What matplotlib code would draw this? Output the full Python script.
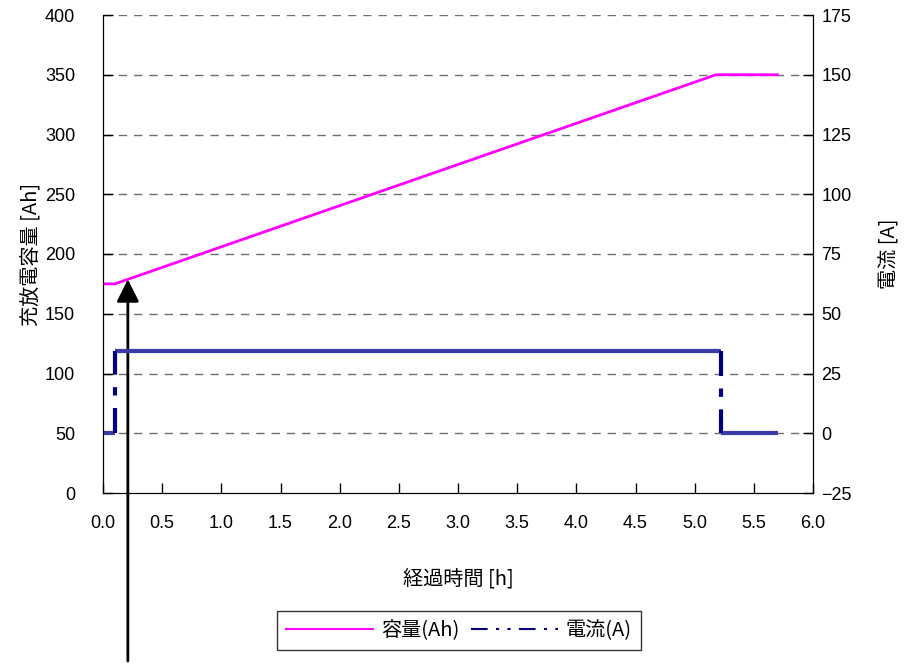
import matplotlib
matplotlib.use('agg')
import matplotlib.pyplot as plt
from matplotlib.lines import Line2D

plt.rcParams['font.family'] = ['Liberation Sans', 'Noto Sans CJK JP']
plt.rcParams['font.size'] = 13
plt.rcParams['axes.unicode_minus'] = True

# data
time_cap = [0.0, 0.1, 5.18, 5.7]
capacity = [175, 175, 350, 350]
time_cur = [0.0, 0.1, 0.1, 5.22, 5.22, 5.7]
current = [0, 0, 34.5, 34.5, 0, 0]
arrow_time = 0.21

xticks = [0.0, 0.5, 1.0, 1.5, 2.0, 2.5, 3.0, 3.5, 4.0, 4.5, 5.0, 5.5, 6.0]
yticks_left = [0, 50, 100, 150, 200, 250, 300, 350, 400]
yticks_right = [-25, 0, 25, 50, 75, 100, 125, 150, 175]

jp = ['Noto Sans CJK JP', 'Liberation Sans']

fig = plt.figure(figsize=(9.06, 6.63), dpi=100)
ax = fig.add_axes([103/906, 1-493/663, 710/906, 478/663])
ax2 = ax.twinx()

ax.set_xlim(0, 6)
ax.set_ylim(0, 400)
ax2.set_ylim(-25, 175)
ax.set_xticks(xticks)
ax.set_xticklabels(['%.1f' % t for t in xticks])
ax.set_yticks(yticks_left)
ax2.set_yticks(yticks_right)
ax2.set_yticklabels([str(v).replace('-', '\u2212') for v in yticks_right])

for y in yticks_left[1:]:
    ax.axhline(y, color='#707070', lw=1, ls=(0, (6, 5)), zorder=0)

for a in (ax, ax2):
    a.spines['top'].set_visible(False)
    a.tick_params(direction='in', length=7, width=1)
ax.tick_params(axis='y', pad=20)
ax.tick_params(axis='x', pad=16)
ax2.tick_params(axis='y', pad=6)

# capacity
ax.plot(time_cap, capacity, color='#FF00FF', lw=2, zorder=3)

# current: horizontal parts solid, steps dash-dot
cur_color = '#000080'
for i in (0, 2, 4):
    ax2.plot(time_cur[i:i+2], current[i:i+2], color='#3a3aa8', lw=3,
             solid_capstyle='butt')
dash = (0, (6, 3, 2, 3))
ax2.plot(time_cur[1:3], current[1:3], color=cur_color, lw=3, ls=dash)
ax2.plot(time_cur[3:5], current[3:5], color=cur_color, lw=3, ls=dash)

ax.set_xlabel('経過時間 [h]', labelpad=26, family=jp, fontsize=14.5)
ax.set_ylabel('充放電容量 [Ah]', labelpad=2, family=jp, fontsize=14.5)
ax2.set_ylabel('電流 [A]', labelpad=20, family=jp, fontsize=14.5)

# arrow from bottom of figure to the capacity line
y_at = capacity[1] + (arrow_time - time_cap[1]) / (time_cap[2] - time_cap[1]) * (capacity[2] - capacity[1])
ax.annotate('', xy=(arrow_time, y_at), xycoords='data',
            xytext=(arrow_time, 0.003), textcoords=('data', 'figure fraction'),
            arrowprops=dict(arrowstyle='-|>', color='black', lw=2, mutation_scale=34,
                            shrinkA=0, shrinkB=0),
            annotation_clip=False)

handles = [Line2D([], [], color='#FF00FF', lw=1.5),
           Line2D([], [], color=cur_color, lw=1.5, ls=(0, (8, 4, 1.5, 4, 1.5, 4)))]
leg = fig.legend(handles, ['容量(Ah)', '電流(A)'], loc='center',
                 bbox_to_anchor=(459/906, 1-630.5/663), ncol=2, frameon=True,
                 fancybox=False, edgecolor='black', handlelength=4.3,
                 columnspacing=0.6, handletextpad=0.4, borderpad=0.45,
                 prop={'family': jp, 'size': 14.5})
leg.get_frame().set_linewidth(1)

fig.savefig('out.png', dpi=100)
